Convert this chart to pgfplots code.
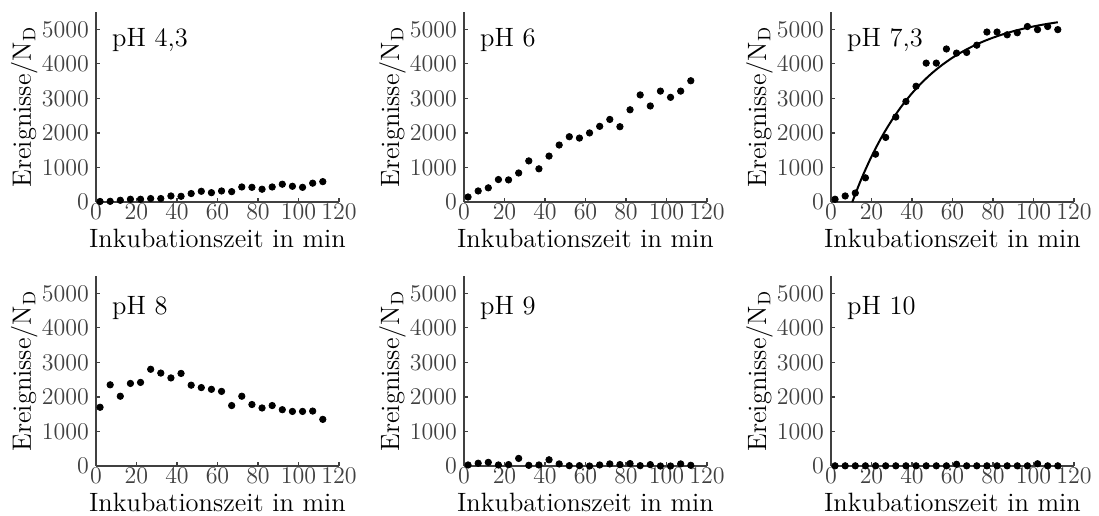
\documentclass[border=0pt]{standalone}
\usepackage{pgfplots}
\pgfplotsset{compat=1.18}
\usepackage{pgfplotstable}

\pgfplotstableread{
t a b c d e f
2 15 145 80 1700 30 5
7 20 320 175 2350 80 5
12 50 410 260 2020 105 5
17 80 650 700 2390 30 5
22 80 640 1385 2420 40 5
27 100 840 1870 2800 220 5
32 100 1190 2460 2690 20 5
37 175 960 2910 2550 30 5
42 165 1330 3350 2680 180 5
47 245 1650 4020 2340 60 5
52 310 1890 4020 2270 10 5
57 270 1850 4430 2220 10 5
62 320 2000 4310 2160 0 50
67 300 2190 4330 1750 30 5
72 435 2390 4540 2020 60 5
77 425 2180 4920 1780 40 5
82 370 2670 4920 1680 70 5
87 435 3100 4840 1750 10 5
92 515 2780 4900 1630 40 5
97 455 3210 5080 1580 0 5
102 425 3030 4990 1580 0 65
107 545 3210 5080 1590 60 5
112 590 3510 4990 1350 20 5
}\data

\pgfplotsset{
  panel/.style={
    scale only axis, width=121.5pt, height=95pt,
    xmin=0, xmax=120, ymin=0, ymax=5500,
    axis lines=left,
    axis line style={-, draw=black!75, line width=0.6pt},
    xtick={0,20,...,120}, ytick={0,1000,...,5000},
    tick align=inside, major tick length=2pt,
    tick style={draw=black!75, line width=0.6pt},
    ticklabel style={font=\fontsize{11.75}{12}\selectfont, text=black!75},
    xticklabel style={inner sep=1pt},
    yticklabel style={/pgf/number format/1000 sep={}},
    scaled y ticks=false,
    label style={font=\fontsize{13.25}{14}\selectfont},
    xlabel={Inkubationszeit in min},
    ylabel={Ereignisse/N$_\mathrm{D}$},
    xlabel style={at={(axis description cs:0.5,-0.238)}, anchor=base, inner sep=0pt},
    ylabel style={at={(axis description cs:-0.2675,0.5)}, anchor=base},
    clip=false,
  },
  dots/.style={only marks, mark=*, mark size=1.6pt, black},
}
\newcommand{\phlab}[2]{\node[anchor=base west, font=\fontsize{13.25}{14}\selectfont, inner sep=0pt] at (axis cs:7.8,#2) {#1};}

\begin{document}
\begin{tikzpicture}
\useasboundingbox (0,0) rectangle (549.5pt,-257.5pt);
\begin{axis}[panel, at={(48pt,-101pt)}, anchor=south west]
  \addplot[dots] table[x=t, y=a] {\data};
  \phlab{pH 4,3}{4500}
\end{axis}
\begin{axis}[panel, at={(232pt,-101pt)}, anchor=south west]
  \addplot[dots] table[x=t, y=b] {\data};
  \phlab{pH 6}{4500}
\end{axis}
\begin{axis}[panel, at={(415.5pt,-101pt)}, anchor=south west]
  \addplot[black, line width=1pt, smooth, mark=none] coordinates {
    (10.5,0) (15,668) (20,1317) (25,1878) (30,2363) (35,2784) (40,3148)
    (45,3464) (50,3737) (55,3973) (60,4178) (65,4355) (70,4509) (75,4642)
    (80,4757) (85,4856) (90,4943) (95,5018) (100,5082) (105,5138) (112,5204)};
  \addplot[dots] table[x=t, y=c] {\data};
  \phlab{pH 7,3}{4500}
\end{axis}
\begin{axis}[panel, at={(48pt,-233pt)}, anchor=south west]
  \addplot[dots] table[x=t, y=d] {\data};
  \phlab{pH 8}{4400}
\end{axis}
\begin{axis}[panel, at={(232pt,-233pt)}, anchor=south west]
  \addplot[dots] table[x=t, y=e] {\data};
  \phlab{pH 9}{4400}
\end{axis}
\begin{axis}[panel, at={(415.5pt,-233pt)}, anchor=south west]
  \addplot[dots] table[x=t, y=f] {\data};
  \phlab{pH 10}{4400}
\end{axis}
\end{tikzpicture}
\end{document}
